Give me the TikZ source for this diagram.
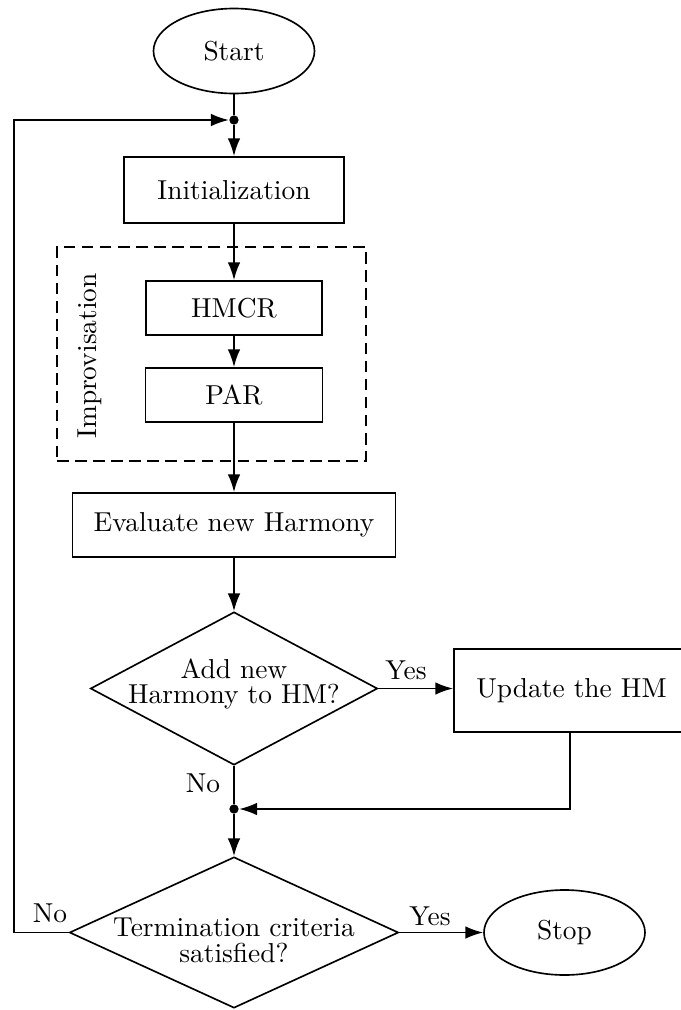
\documentclass[tikz,border=0pt]{standalone}
\usetikzlibrary{shapes.geometric,arrows.meta}
\begin{document}
\def\u{0.365pt}
\begin{tikzpicture}[x=0.365pt,y=-0.365pt,
  every node/.style={font=\fontsize{10}{12}\selectfont},
  line/.style={line width=0.65pt},
  arr/.style={line width=0.65pt,-{Latex[length=6.5pt,width=4.6pt]}},
  procbox/.style={draw,line width=0.65pt,rectangle,inner sep=0pt},
  term/.style={draw,line width=0.6pt,ellipse,inner sep=0pt},
  dia/.style={draw,line width=0.6pt,diamond,inner sep=0pt},
  dot/.style={circle,fill,inner sep=0pt,minimum size=3.4pt},
  lbl/.style={inner sep=1pt}]
\useasboundingbox (0,0) rectangle (680,1010);

% dashed group
\node[draw,dash pattern=on 4.2pt off 2.4pt,line width=0.6pt,inner sep=0pt,
      minimum width=309*\u,minimum height=214*\u] (imp) at (211.5,354) {};
\node[rotate=90] (implbl) at (90,356) {Improvisation};

\node[term,minimum width=161*\u,minimum height=85*\u] (start) at (234,51) {Start};
\node[dot] (j1) at (234,120) {};
\node[procbox,minimum width=220*\u,minimum height=66*\u] (init) at (234,190) {Initialization};
\node[procbox,minimum width=176*\u,minimum height=54*\u] (hmcr) at (234,308) {HMCR};
\node[procbox,minimum width=177*\u,minimum height=54*\u] (par) at (234,395) {PAR};
\node[procbox,minimum width=323*\u,minimum height=64*\u] (eval) at (234,525) {Evaluate new Harmony};
\node[dia,minimum width=287*\u,minimum height=153*\u] (d1) at (234,688.5) {};
\node[align=center] (d1txt) at (234,684) {Add new\\[-2.6pt]Harmony to HM?};
\node[procbox,minimum width=235*\u,minimum height=83*\u] (upd) at (571.5,690.5) {Update the HM};
\node[dot] (j2) at (234,809) {};
\node[dia,minimum width=329*\u,minimum height=151*\u] (d2) at (234,932.5) {};
\node[align=center] (d2txt) at (234,940) {Termination criteria\\[-2.6pt]satisfied?};
\node[term,minimum width=161*\u,minimum height=85*\u] (stop) at (564.5,932.5) {Stop};

\coordinate (loopL) at (14,932.5);

% connectors
\draw[line] (start.south) -- (j1);
\draw[arr] (j1) -- (init.north);
\draw[arr] (init.south) -- (hmcr.north);
\draw[arr] (hmcr.south) -- (par.north);
\draw[arr] (par.south) -- (eval.north);
\draw[arr] (eval.south) -- (d1.north);
\draw[arr] (d1.east) -- (upd.west |- d1.east);
\draw[line] (d1.south) -- (j2);
\draw[arr] (upd.south -| 570,0) |- (j2.east);
\draw[arr] (j2) -- (d2.north);
\draw[arr] (d2.east) -- (stop.west);
\draw[arr] (d2.west) -- (loopL) |- (j1.west);

% labels
\node[lbl] (yes1) at (406,670) {Yes};
\node[lbl] (no1) at (203,783) {No};
\node[lbl] (yes2) at (430,916) {Yes};
\node[lbl] (no2) at (50,913) {No};
\end{tikzpicture}
\end{document}
